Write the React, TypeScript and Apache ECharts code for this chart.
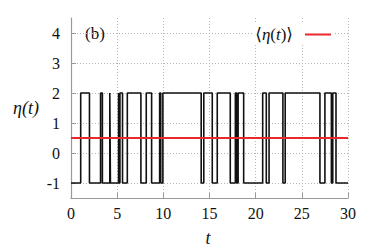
import React, { useEffect, useRef } from "react";
import * as echarts from "echarts";

// switching times of η(t) and the level held from each time on
const times = [0, 1.05, 2.0, 3.2, 3.4, 4.2, 4.27, 5.15, 5.22, 5.3, 5.58, 6.1, 7.57, 8.15, 8.73, 9.6, 9.72, 9.95, 14.1, 14.38, 15.3, 15.84, 17.25, 17.8, 17.95, 18.1, 18.7, 20.76, 21.15, 21.45, 22.95, 23.2, 26.96, 27.5, 28.2, 28.35, 28.7, 30];
const levels = [-1, 2, -1, 2, -1, 2, -1, 2, -1, 2, -1, 2, -1, 2, -1, 2, -1, 2, -1, 2, -1, 2, -1, 2, -1, 2, -1, 2, -1, 2, -1, 2, -1, 2, -1, 2, -1, -1];
const meanValue = 0.5;
const meanRange = [0, 30];
const yTicks = [-1, 0, 1, 2, 3, 4];

const FONT = "'Liberation Serif', 'DejaVu Serif', serif";

export default function App() {
  const ref = useRef<HTMLDivElement>(null);
  useEffect(() => {
    document.body.style.margin = "0";
    const chart = echarts.init(ref.current!, null, { renderer: "svg" });
    const stepData = times.map((t, i) => [t, levels[i]]);
    const meanData = meanRange.map((t) => [t, meanValue]);
    const axisColor = "#9a9a9a";
    const gridLine = { show: true, lineStyle: { color: "#b5b5b5", type: [1, 2], width: 1 } };
    chart.setOption({
      animation: false,
      grid: { left: 71, right: 26, top: 18, bottom: 51 },
      xAxis: {
        type: "value",
        min: 0,
        max: 30,
        interval: 5,
        axisLine: { show: true, onZero: false, lineStyle: { color: axisColor, width: 1.2 } },
        axisTick: { show: true, inside: true, length: 5, lineStyle: { color: axisColor } },
        axisLabel: { color: "#111", fontFamily: FONT, fontSize: 16, margin: 7 },
        splitLine: gridLine,
      },
      yAxis: {
        type: "value",
        min: -1.5,
        max: 4.5,
        axisLine: { show: true, onZero: false, lineStyle: { color: axisColor, width: 1.2 } },
        axisTick: { show: true, inside: true, length: 5, lineStyle: { color: axisColor }, customValues: yTicks },
        axisLabel: { color: "#111", fontFamily: FONT, fontSize: 16, margin: 11, customValues: yTicks },
        splitLine: gridLine,
      },
      legend: {
        data: ["⟨η(t)⟩"],
        right: 40,
        top: 24,
        align: "right",
        icon: "path://M0 0H26V2H0Z",
        itemWidth: 26,
        itemHeight: 2,
        padding: [2, 3],
        backgroundColor: "#fff",
        formatter: () => "{a|⟨}{i|η}{a|(}{i|t}{a|)⟩}",
        textStyle: {
          padding: [0, 7, 0, 0],
          rich: {
            a: { fontFamily: FONT, fontSize: 17, color: "#111" },
            i: { fontFamily: FONT, fontSize: 17, fontStyle: "italic", color: "#111" },
          },
        },
      },
      graphic: [
        {
          type: "text",
          left: 82,
          top: 24,
          style: { text: "(b)", fontFamily: FONT, fontSize: 17, fill: "#111", backgroundColor: "#fff", padding: [1, 3] },
        },
        {
          type: "text",
          x: 208,
          y: 238,
          style: { text: "t", fontFamily: FONT, fontSize: 18, fontStyle: "italic", fill: "#111", align: "center", verticalAlign: "middle" },
        },
        {
          type: "text",
          x: 26,
          y: 108,
          style: { text: "η(t)", fontFamily: FONT, fontSize: 18, fontStyle: "italic", fill: "#111", align: "center", verticalAlign: "middle" },
        },
      ],
      series: [
        {
          name: "η(t)",
          type: "line",
          step: "end",
          symbol: "none",
          data: stepData,
          lineStyle: { color: "#111", width: 1.6 },
          z: 2,
        },
        {
          name: "⟨η(t)⟩",
          type: "line",
          symbol: "none",
          data: meanData,
          lineStyle: { color: "#e8282c", width: 2 },
          itemStyle: { color: "#e8282c" },
          z: 3,
        },
      ],
    });
    return () => chart.dispose();
  }, []);
  return <div ref={ref} style={{ width: 374, height: 249 }} />;
}
